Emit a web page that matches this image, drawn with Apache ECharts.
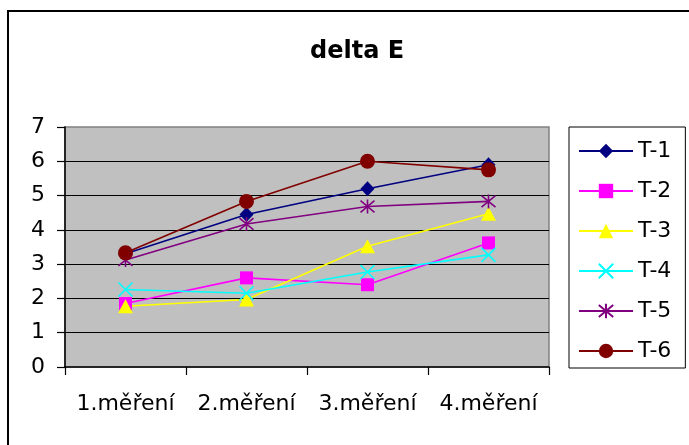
<!DOCTYPE html>
<html>
<head>
<meta charset="utf-8">
<script src="https://cdn.jsdelivr.net/npm/echarts@6/dist/echarts.min.js"></script>
<style>
html,body{margin:0;padding:0;background:#fff;}
#c{width:689px;height:445px;}
</style>
</head>
<body>
<div id="c"></div>
<script>
var categories = ['1.měření', '2.měření', '3.měření', '4.měření'];
var seriesNames = ['T-1', 'T-2', 'T-3', 'T-4', 'T-5', 'T-6'];
var t1 = [3.3, 4.45, 5.2, 5.9];
var t2 = [1.85, 2.6, 2.4, 3.62];
var t3 = [1.77, 1.97, 3.52, 4.47];
var t4 = [2.26, 2.15, 2.77, 3.27];
var t5 = [3.12, 4.17, 4.68, 4.83];
var t6 = [3.33, 4.83, 6.0, 5.75];
var yTicks = [0, 1, 2, 3, 4, 5, 6, 7];

var values = [t1, t2, t3, t4, t5, t6];
var colors = ['#000080', '#FF00FF', '#FFFF00', '#00FFFF', '#800080', '#800000'];
var symbols = ['diamond', 'rect', 'triangle',
  'path://M0,0L10,10M10,0L0,10',
  'path://M0,0L10,10M10,0L0,10M5,-1L5,11',
  'circle'];
var symbolSizes = [[14, 15], 13, [15, 14], 14, 14, 15];

var font = 'DejaVu Sans';
var chart = echarts.init(document.getElementById('c'));

var series = seriesNames.map(function (name, i) {
  var stroked = (i === 3 || i === 4);
  return {
    name: name,
    type: 'line',
    data: values[i],
    symbol: symbols[i],
    symbolSize: symbolSizes[i],
    showAllSymbol: true,
    lineStyle: { color: colors[i], width: 1.6 },
    itemStyle: {
      color: colors[i],
      borderColor: colors[i],
      borderWidth: stroked ? 1.6 : 0
    },
    emphasis: { disabled: true }
  };
});

chart.setOption({
  animation: false,
  title: {
    text: 'delta E',
    left: 305,
    top: 35,
    textStyle: { fontFamily: font, fontWeight: 'bold', fontSize: 24, color: '#000' }
  },
  legend: {
    orient: 'vertical',
    left: 569,
    top: 127,
    padding: [13, 14, 6, 9],
    itemWidth: 54,
    itemHeight: 18,
    itemGap: 18,
    borderColor: '#000',
    borderWidth: 1,
    backgroundColor: '#fff',
    textStyle: { fontFamily: font, fontSize: 22, color: '#000' },
    data: seriesNames
  },
  grid: {
    left: 65, top: 127, width: 484, height: 240,
    show: true,
    backgroundColor: '#C0C0C0',
    borderColor: '#808080',
    borderWidth: 1.5
  },
  xAxis: {
    type: 'category',
    data: categories,
    boundaryGap: true,
    axisLine: { show: true, lineStyle: { color: '#000', width: 1.5 } },
    axisTick: { show: true, interval: 0, length: 8, lineStyle: { color: '#000', width: 1.2 } },
    axisLabel: { interval: 0, margin: 26, fontFamily: font, fontSize: 22, color: '#000' },
    splitLine: { show: false }
  },
  yAxis: {
    type: 'value',
    min: yTicks[0],
    max: yTicks[yTicks.length - 1],
    interval: 1,
    axisLine: { show: true, lineStyle: { color: '#000', width: 1.5 } },
    axisTick: { show: true, length: 8, lineStyle: { color: '#000', width: 1.2 } },
    axisLabel: { margin: 20, fontFamily: font, fontSize: 22, color: '#000' },
    splitLine: { show: true, showMinLine: false, showMaxLine: false, lineStyle: { color: '#000', width: 1 } }
  },
  graphic: [{
    type: 'rect',
    shape: { x: 8, y: 11, width: 720, height: 480 },
    style: { fill: 'none', stroke: '#000', lineWidth: 2 },
    silent: true
  }],
  series: series
});
</script>
</body>
</html>
